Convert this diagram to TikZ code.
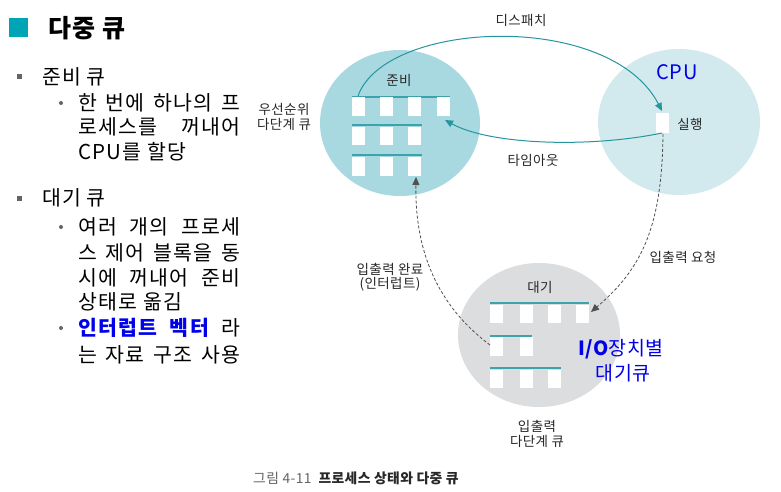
\documentclass[tikz,border=0pt]{standalone}
\usepackage{fontspec}
\setmainfont{Noto Sans CJK KR}
\newfontfamily\krsp[LetterSpace=6]{Noto Sans CJK KR}
\newfontfamily\krcap[LetterSpace=3]{Noto Sans CJK KR}
\usetikzlibrary{arrows.meta,shapes.geometric}
\definecolor{readyc}{RGB}{168,216,224}
\definecolor{cpuc}{RGB}{210,234,238}
\definecolor{waitc}{RGB}{220,221,223}
\definecolor{tealarrow}{RGB}{38,150,158}
\definecolor{qline}{RGB}{62,162,172}
\definecolor{titlesq}{RGB}{0,165,181}
\definecolor{bulletc}{RGB}{100,100,100}
\definecolor{dashc}{RGB}{80,80,80}
\definecolor{txt}{RGB}{40,40,40}
\definecolor{bluetxt}{RGB}{0,0,235}
\begin{document}
\begin{tikzpicture}[x=1pt,y=-1pt,
  body/.style={anchor=west,inner sep=0pt,font=\krsp\fontsize{20.5}{24}\selectfont,text=black},
  lbl/.style={inner sep=0pt,font=\krcap\fontsize{13.5}{16}\selectfont,text=txt,align=center},
  qbox/.style={fill=white,draw=none,minimum width=13pt,minimum height=18.5pt,inner sep=0pt},
  qln/.style={draw=qline,line width=1.3pt},
  tealarr/.style={draw=tealarrow,line width=1pt,-{Triangle[length=8pt,width=7pt]}},
  dasharr/.style={draw=dashc,line width=0.8pt,dash pattern=on 3pt off 2pt,-{Triangle[length=8pt,width=7pt]}},
  sqbullet/.style={fill=bulletc,minimum size=5pt,inner sep=0pt},
  dotbullet/.style={circle,fill=bulletc,minimum size=4pt,inner sep=0pt},
  blob/.style={ellipse,inner sep=0pt}]
\useasboundingbox (0,0) rectangle (781,492);
\fill[white] (0,0) rectangle (781,492);

% ---------- left text ----------
\node[fill=titlesq,minimum size=19pt,inner sep=0pt] (tsq) at (18,28) {};
\node[anchor=west,inner sep=0pt,font=\krsp\fontsize{25}{29}\selectfont\bfseries] (title) at (48,28) {다중 큐};

\node[sqbullet] (b1) at (19,77) {};
\node[body] (l1) at (42,77) {준비 큐};
\node[dotbullet] (d1) at (61,103) {};
\node[body] (l2) at (78,103) {\makebox[162pt][s]{한 번에 하나의 프}};
\node[body] (l3) at (78,127) {\makebox[162pt][s]{로세스를 꺼내어}};
\node[body] (l4) at (78,152) {CPU를 할당};

\node[sqbullet] (b2) at (19,198) {};
\node[body] (l5) at (42,198) {대기 큐};
\node[dotbullet] (d2) at (61,227) {};
\node[body] (l6) at (78,227) {\makebox[162pt][s]{여러 개의 프로세}};
\node[body] (l7) at (78,253) {\makebox[162pt][s]{스 제어 블록을 동}};
\node[body] (l8) at (78,278) {\makebox[162pt][s]{시에 꺼내어 준비}};
\node[body] (l9) at (78,302) {상태로 옮김};
\node[dotbullet] (d3) at (61,328) {};
\node[body] (l10) at (78,328) {\makebox[162pt][s]{\textcolor{bluetxt}{\bfseries 인터럽트 벡터} 라}};
\node[body] (l11) at (78,355) {\makebox[162pt][s]{는 자료 구조 사용}};

% ---------- circles ----------
\node[blob,fill=readyc,minimum width=160pt,minimum height=146pt] (ready) at (400,123) {};
\node[blob,fill=cpuc,minimum width=162pt,minimum height=146pt] (cpu) at (679,122) {};
\node[blob,fill=waitc,minimum width=162pt,minimum height=144pt] (wait) at (539,335) {};

% ---------- ready queue ----------
\coordinate (ra1) at (352,97);  \coordinate (rb1) at (450,97);
\coordinate (ra2) at (352,125); \coordinate (rb2) at (422,125);
\coordinate (ra3) at (352,155); \coordinate (rb3) at (422,155);
\draw[qln] (ra1) -- (rb1);
\draw[qln] (ra2) -- (rb2);
\draw[qln] (ra3) -- (rb3);
\node[qbox] (r1c1) at (358.5,106.5) {};
\node[qbox] (r1c2) at (386.5,106.5) {};
\node[qbox] (r1c3) at (414.5,106.5) {};
\node[qbox] (r1c4) at (443.5,106.5) {};
\node[qbox] (r2c1) at (358.5,136) {};
\node[qbox] (r2c2) at (386.5,136) {};
\node[qbox] (r2c3) at (414.5,136) {};
\node[qbox] (r3c1) at (358.5,166.5) {};
\node[qbox] (r3c2) at (386.5,166.5) {};
\node[qbox] (r3c3) at (414.5,166.5) {};
\node[lbl] (readyl) at (399,80) {준비};
\node[lbl] (prio) at (284,117) {우선순위\\[-1pt]다단계 큐};

% ---------- CPU ----------
\node[qbox,minimum height=20pt] (cpubox) at (662.5,123) {};
\node[lbl] (run) at (690,124) {실행};
\node[inner sep=0pt,font=\krcap\fontsize{20}{22}\selectfont,text=bluetxt] (cpul) at (677,72) {CPU};

% ---------- wait queue ----------
\coordinate (wa1) at (490,303); \coordinate (wb1) at (589,303);
\coordinate (wa2) at (490,336); \coordinate (wb2) at (532,336);
\coordinate (wa3) at (490,368); \coordinate (wb3) at (561,368);
\draw[qln] (wa1) -- (wb1);
\draw[qln] (wa2) -- (wb2);
\draw[qln] (wa3) -- (wb3);
\node[qbox] (w1c1) at (496.5,314) {};
\node[qbox] (w1c2) at (526.5,314) {};
\node[qbox] (w1c3) at (554,314) {};
\node[qbox] (w1c4) at (582.5,314) {};
\node[qbox] (w2c1) at (496.5,346.5) {};
\node[qbox] (w2c2) at (526.5,346.5) {};
\node[qbox] (w3c1) at (496.5,379) {};
\node[qbox] (w3c2) at (526.5,379) {};
\node[qbox] (w3c3) at (554,379) {};
\node[lbl] (waitl) at (540,287) {대기};
\node[lbl] (iomq) at (537,434) {입출력\\[-1pt]다단계 큐};
\node[inner sep=0pt,font=\krcap\fontsize{19.5}{22}\selectfont,text=bluetxt] (iodev1) at (621,349) {{\bfseries I/O}장치별};
\node[inner sep=0pt,font=\krcap\fontsize{19.5}{22}\selectfont,text=bluetxt] (iodev2) at (623,373) {대기큐};

% ---------- connectors ----------
\coordinate (dispS) at (358,96);
\coordinate (dispE) at (662,111);
\draw[tealarr] (dispS) .. controls (385,20) and (610,10) .. (dispE);
\node[lbl] (displ) at (521,20) {디스패치};

\coordinate (toS) at (662,133);
\coordinate (toE) at (445,120);
\draw[tealarr] (toS) .. controls (590,148) and (490,145) .. (toE);
\node[lbl] (tol) at (533,160) {타임아웃};

\coordinate (ioS) at (663,134);
\coordinate (ioE) at (591,312);
\draw[dasharr] (ioS) .. controls (662,230) and (640,270) .. (ioE);
\node[lbl] (iol) at (683,257) {입출력 요청};

\coordinate (icS) at (490,345);
\coordinate (icE) at (416,177);
\draw[dasharr] (icS) .. controls (430,300) and (415,240) .. (icE);
\node[lbl] (icl) at (390,277) {입출력 완료\\[-2pt](인터럽트)};

% ---------- caption ----------
\node[anchor=west,inner sep=0pt,font=\krcap\fontsize{13.8}{15}\selectfont] (cap) at (253,478)
  {\textcolor{bulletc}{그림 4-11}\hspace{7pt}\textcolor{txt}{\bfseries 프로세스 상태와 다중 큐}};
\end{tikzpicture}
\end{document}
